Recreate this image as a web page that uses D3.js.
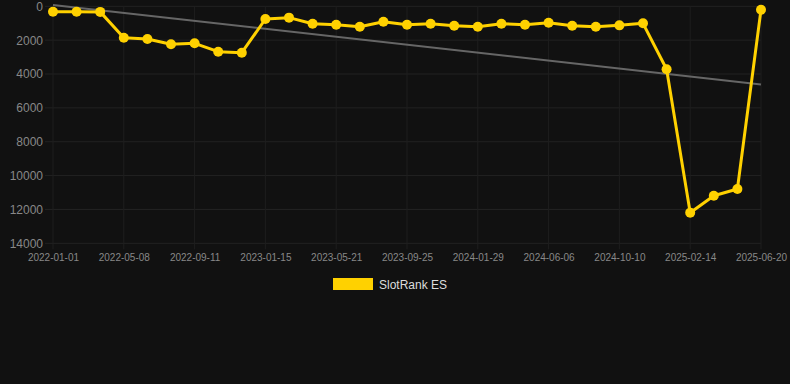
<!DOCTYPE html>
<html>
<head>
<meta charset="utf-8">
<script src="https://cdn.jsdelivr.net/npm/d3@7"></script>
<style>
  html, body { margin: 0; padding: 0; background: #111111; }
  svg { display: block; font-family: "Liberation Sans", Arial, sans-serif; }
</style>
</head>
<body>
<svg id="chart" width="790" height="384"></svg>
<script>
// dates of the samples (category axis, every 3rd one is labelled)
var dates = [
  "2022-01-01", "2022-02-12", "2022-03-26", "2022-05-08", "2022-06-19", "2022-07-31",
  "2022-09-11", "2022-10-23", "2022-12-04", "2023-01-15", "2023-02-26", "2023-04-09",
  "2023-05-21", "2023-07-02", "2023-08-13", "2023-09-25", "2023-11-06", "2023-12-18",
  "2024-01-29", "2024-03-11", "2024-04-22", "2024-06-06", "2024-07-18", "2024-08-29",
  "2024-10-10", "2024-11-21", "2025-01-02", "2025-02-14", "2025-03-28", "2025-05-09",
  "2025-06-20"
];
var rankES = [
  320, 320, 330, 1855, 1930, 2245, 2185, 2680, 2740, 750, 670, 1030,
  1085, 1205, 910, 1085, 1030, 1145, 1205, 1030, 1085, 970, 1145, 1205,
  1125, 1005, 3720, 12190, 11190, 10790, 200
];
var yTicks = [0, 2000, 4000, 6000, 8000, 10000, 12000, 14000];
var seriesName = "SlotRank ES";

var svg = d3.select("#chart");
var plotLeft = 53, plotRight = 761, plotTop = 6.3, plotBottom = 243.3;

var x = d3.scalePoint().domain(dates).range([plotLeft, plotRight]);
var y = d3.scaleLinear().domain([0, 14000]).range([plotTop, plotBottom]);

// grid
var grid = svg.append("g").attr("class", "grid");
grid.selectAll("line.h")
  .data(yTicks)
  .enter()
  .append("line")
  .attr("x1", plotLeft - 8)
  .attr("x2", plotRight)
  .attr("y1", function (d) { return y(d); })
  .attr("y2", function (d) { return y(d); })
  .attr("stroke", "#222222")
  .attr("stroke-width", 1);
var labelled = dates.filter(function (d, i) { return i % 3 === 0; });
grid.selectAll("line.v")
  .data(labelled)
  .enter()
  .append("line")
  .attr("x1", function (d) { return x(d); })
  .attr("x2", function (d) { return x(d); })
  .attr("y1", plotTop)
  .attr("y2", plotBottom + 6)
  .attr("stroke", "#1e1e1e")
  .attr("stroke-width", 1);

// axes
var yAxis = svg.append("g")
  .attr("transform", "translate(" + (plotLeft - 10) + ",0)")
  .call(d3.axisLeft(y).tickValues(yTicks).tickFormat(d3.format("d")).tickSize(0).tickPadding(0));
yAxis.select(".domain").remove();
yAxis.selectAll("text")
  .attr("fill", "#888888")
  .style("font-size", "12px");

var xAxis = svg.append("g")
  .attr("transform", "translate(0," + (plotBottom + 6) + ")")
  .call(d3.axisBottom(x).tickValues(labelled).tickSize(0).tickPadding(5));
xAxis.select(".domain").remove();
xAxis.selectAll("text")
  .attr("fill", "#888888")
  .style("font-size", "10px");

// trend line (least squares over the sample index)
var n = rankES.length;
var mx = d3.mean(rankES, function (d, i) { return i; });
var my = d3.mean(rankES);
var sxy = d3.sum(rankES, function (d, i) { return (i - mx) * (d - my); });
var sxx = d3.sum(rankES, function (d, i) { return (i - mx) * (i - mx); });
var slope = sxy / sxx;
var intercept = my - slope * mx;
svg.append("line")
  .attr("x1", x(dates[0]))
  .attr("y1", y(intercept))
  .attr("x2", x(dates[n - 1]))
  .attr("y2", y(intercept + slope * (n - 1)))
  .attr("stroke", "#666666")
  .attr("stroke-width", 2);

// series
var line = d3.line()
  .x(function (d, i) { return x(dates[i]); })
  .y(function (d) { return y(d); });
svg.append("path")
  .datum(rankES)
  .attr("d", line)
  .attr("fill", "none")
  .attr("stroke", "#FFD100")
  .attr("stroke-width", 3)
  .attr("stroke-linejoin", "round");
svg.append("g")
  .selectAll("circle")
  .data(rankES)
  .enter()
  .append("circle")
  .attr("cx", function (d, i) { return x(dates[i]); })
  .attr("cy", function (d) { return y(d); })
  .attr("r", 5)
  .attr("fill", "#FFD100");

// legend
var legend = svg.append("g").attr("transform", "translate(333,278)");
legend.append("rect")
  .attr("width", 40)
  .attr("height", 12)
  .attr("fill", "#FFD100");
legend.append("text")
  .attr("x", 46)
  .attr("y", 10.5)
  .attr("fill", "#dddddd")
  .style("font-size", "12px")
  .text(seriesName);
</script>
</body>
</html>
